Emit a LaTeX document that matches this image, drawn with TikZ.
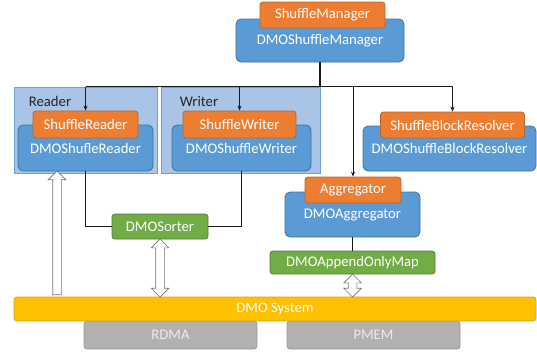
\documentclass[tikz,border=0pt]{standalone}
\usepackage{fontspec}
\setmainfont{Carlito}
\usetikzlibrary{calc,arrows.meta,shapes.arrows}

\definecolor{dmoorange}{HTML}{ED7D31}
\definecolor{dmoorangeline}{HTML}{B9642A}
\definecolor{dmoblue}{HTML}{5B9BD5}
\definecolor{dmoblueline}{HTML}{41719C}
\definecolor{dmogroup}{HTML}{A8C4E7}
\definecolor{dmogroupline}{HTML}{6C9FD8}
\definecolor{dmogreen}{HTML}{70AD47}
\definecolor{dmogreenline}{HTML}{507E32}
\definecolor{dmoyellow}{HTML}{FFC000}
\definecolor{dmoyellowline}{HTML}{D6A21C}
\definecolor{dmogray}{HTML}{B1B1B1}
\definecolor{dmograyline}{HTML}{9A9A9A}

\tikzset{
  bluebox/.style={draw=dmoblueline, fill=dmoblue, text=white, rounded corners=5pt, inner sep=0pt, line width=0.8pt},
  orangebox/.style={draw=dmoorangeline, fill=dmoorange, text=white, rounded corners=3pt, inner sep=0pt, line width=0.8pt},
  greenbox/.style={draw=dmogreenline, fill=dmogreen, text=white, rounded corners=3pt, inner sep=0pt, line width=0.8pt},
  groupbox/.style={draw=dmogroupline, fill=dmogroup, inner sep=0pt, line width=0.8pt},
  grpname/.style={text=black!85, inner sep=0pt},
  link/.style={draw=black!90, line width=1pt},
  arr/.style={link, -{Stealth[length=5pt,width=4pt]}},
  hollowup/.style={single arrow, draw=black!55, fill=white, line width=0.7pt, inner sep=4pt, single arrow head extend=4.5pt, rotate=90},
  hollowboth/.style={double arrow, draw=black!55, fill=white, line width=0.7pt, inner sep=4pt, double arrow head extend=4.5pt, rotate=90}
}

\begin{document}
\begin{tikzpicture}[x=1pt, y=-1pt, font=\fontsize{14.7}{16}\selectfont]
\useasboundingbox (0,0) rectangle (537,351);
%%%%%%%%%%%%%%%%
\node[bluebox, minimum width=168, minimum height=43] (mgr) at (320,40.5) {DMOShuffleManager};
\node[orangebox, minimum width=125, minimum height=26] (mgrtop) at (322.5,15) {ShuffleManager};
%%%%%%%%%%%%%%%%
\node[groupbox, minimum width=143, minimum height=86] (readergrp) at (85.5,130) {};
\node[grpname] (readerlbl) at (50,101) {Reader};
\node[bluebox, minimum width=135, minimum height=46] (rd) at (85.5,148) {DMOShufleReader};
\node[orangebox, minimum width=105, minimum height=27] (rdtop) at (85.5,124.5) {ShuffleReader};
%%%%%%%%%%%%%%%%
\node[groupbox, minimum width=159, minimum height=86] (writergrp) at (240.5,130) {};
\node[grpname] (writerlbl) at (199,101) {Writer};
\node[bluebox, minimum width=139, minimum height=46] (wr) at (241.5,148) {DMOShuffleWriter};
\node[orangebox, minimum width=113, minimum height=27] (wrtop) at (239.5,124.5) {ShuffleWriter};
%%%%%%%%%%%%%%%%
\node[bluebox, minimum width=173, minimum height=45] (res) at (449.5,148.5) {DMOShuffleBlockResolver};
\node[orangebox, minimum width=144, minimum height=26] (restop) at (452.5,125) {ShuffleBlockResolver};
%%%%%%%%%%%%%%%%
\node[bluebox, minimum width=135, minimum height=45] (agg) at (352.5,214.5) {DMOAggregator};
\node[orangebox, minimum width=96, minimum height=26] (aggtop) at (353,190) {Aggregator};
\node[greenbox, minimum width=165, minimum height=23] (aomap) at (352.5,262.5) {DMOAppendOnlyMap};
%%%%%%%%%%%%%%%%
\node[greenbox, minimum width=96, minimum height=25] (sorter) at (160,226.5) {DMOSorter};
%%%%%%%%%%%%%%%%
\node[fill=dmogray, draw=dmograyline, rounded corners=3pt, text=white!92!black, minimum width=173, minimum height=28, line width=0.8pt] (rdma) at (170.5,335) {RDMA};
\node[fill=dmogray, draw=dmograyline, rounded corners=3pt, text=white!92!black, minimum width=173, minimum height=28, line width=0.8pt] (pmem) at (373.5,335) {PMEM};
\node[fill=dmoyellow, draw=dmoyellowline, rounded corners=3pt, text=white, minimum width=522, minimum height=24, line width=0.8pt] (sys) at (275,309) {DMO System};
%%%%%%%%%%%%%%%%
\coordinate (junction) at (mgr.south |- readergrp.north);
\draw[link, line width=2pt] (mgr.south) -- (junction);
\draw[link, line width=1.3pt] (rdtop.north |- junction) -- (restop.north |- junction);
\draw[arr] (rdtop.north |- junction) -- (rdtop.north);
\draw[arr] (wrtop.north |- junction) -- (wrtop.north);
\draw[arr] (aggtop.north |- junction) -- (aggtop.north);
\draw[arr] (restop.north |- junction) -- (restop.north);
%%%%%%%%%%%%%%%%
\draw[link, line width=0.9pt] (rd.south) |- (sorter.west);
\draw[link, line width=0.9pt] (wr.south) |- (sorter.east);
\draw[link, line width=0.9pt] (agg.south) -- (aomap.north);
%%%%%%%%%%%%%%%%
\coordinate (upx) at (57,0);
\node[hollowup, minimum height=124] (uparrow) at ($(upx |- sys.north)!0.5!(upx |- readergrp.south)$) {};
\node[hollowboth, minimum height=58] (sortarrow) at ($(sorter.south)!0.5!(sorter.south |- sys.north)$) {};
\node[hollowboth, minimum height=23] (maparrow) at ($(aomap.south)!0.5!(aomap.south |- sys.north)$) {};
\end{tikzpicture}
\end{document}
